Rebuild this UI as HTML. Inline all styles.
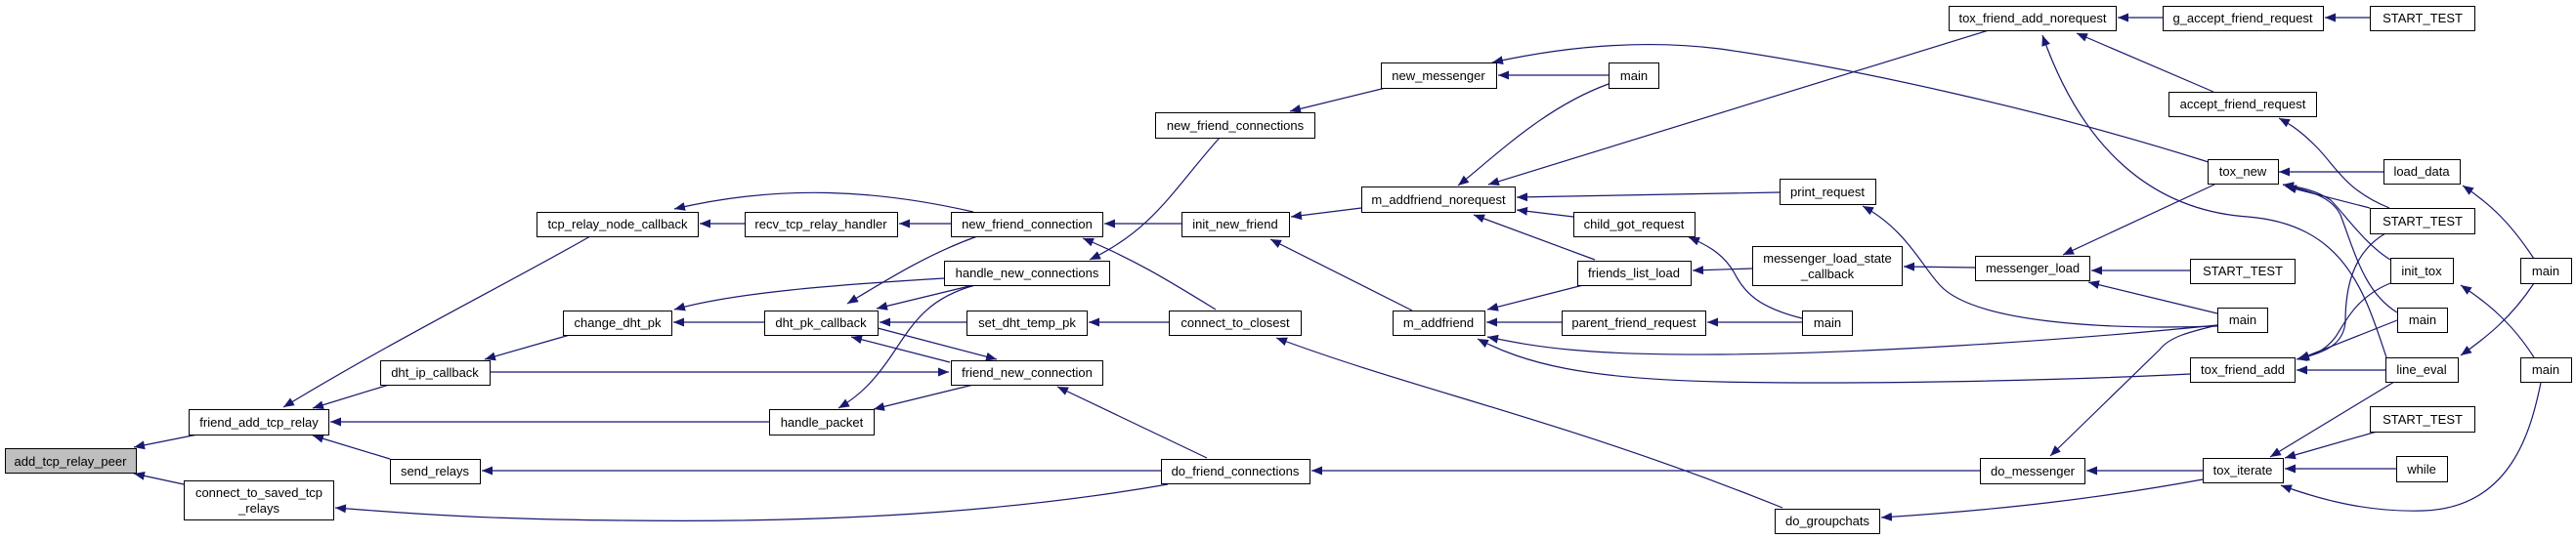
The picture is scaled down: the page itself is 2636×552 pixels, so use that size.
<!DOCTYPE html>
<html><head><meta charset="utf-8"><style>
html,body{margin:0;padding:0;background:#fff;}
svg{display:block;}
text{font-family:"Liberation Sans",Helvetica,Arial,sans-serif;font-size:13px;fill:#000;}
</style></head><body>
<svg width="2636" height="552" viewBox="0 0 2636 552" xmlns="http://www.w3.org/2000/svg">
<defs>
<marker id="a" markerUnits="userSpaceOnUse" markerWidth="12" markerHeight="9" refX="11" refY="4.5" orient="auto">
<path d="M0,0 L11,4.5 L0,9 z" fill="#191970"/>
</marker>
</defs>
<g fill="none" stroke="#191970" stroke-width="1.2" marker-end="url(#a)">
<path d="M202,445 L137,458"/>
<path d="M188,496 L137,485"/>
<path d="M604,242 C520,290 400,350 290,417"/>
<path d="M398,394 L320,418"/>
<path d="M787,432 L338,432"/>
<path d="M399,470 L320,446"/>
<path d="M1195,496 C1000,530 800,535 640,533 C500,532 420,526 343,520"/>
<path d="M762,229 L716,229"/>
<path d="M996,217 C900,195 800,188 690,214"/>
<path d="M973,229 L920,229"/>
<path d="M1209,229 L1130,229"/>
<path d="M1244,317 C1200,290 1160,265 1108,244"/>
<path d="M1248,141 C1200,195 1180,235 1115,266"/>
<path d="M782,330 L689,330"/>
<path d="M966,285 C850,292 750,300 690,317"/>
<path d="M583,343 L496,368"/>
<path d="M1000,242 C950,260 910,285 867,311"/>
<path d="M996,292 L897,316"/>
<path d="M989,330 L900,330"/>
<path d="M972,371 L871,345"/>
<path d="M898,336 L1020,368"/>
<path d="M501,381 L971,381"/>
<path d="M996,394 L894,419"/>
<path d="M998,292 C950,305 935,330 915,360 C895,390 880,405 858,418"/>
<path d="M1235,469 L1082,396"/>
<path d="M1188,482 L493,482"/>
<path d="M1196,330 L1114,330"/>
<path d="M1418,90 L1320,114"/>
<path d="M1393,213 L1321,222"/>
<path d="M1445,318 L1300,245"/>
<path d="M1824,520 C1600,430 1450,400 1306,346"/>
<path d="M2026,482 L1342,482"/>
<path d="M1646,77 L1533,77"/>
<path d="M2260,166 C2100,115 1900,70 1760,50 C1680,40 1600,48 1527,64"/>
<path d="M1646,86 C1580,110 1530,160 1492,190"/>
<path d="M2035,31 L1523,189"/>
<path d="M1821,197 L1552,202"/>
<path d="M1610,222 L1552,215"/>
<path d="M1632,266 L1508,220"/>
<path d="M1620,292 L1522,317"/>
<path d="M1598,330 L1521,330"/>
<path d="M2269,333 C2100,350 1900,362 1760,363 C1620,364 1570,355 1522,345"/>
<path d="M2241,383 C2100,390 1900,394 1760,391 C1620,388 1560,372 1512,347"/>
<path d="M1793,275 L1732,277"/>
<path d="M1844,326 C1800,315 1785,300 1775,280 C1765,262 1750,252 1728,243"/>
<path d="M1844,330 L1747,330"/>
<path d="M2269,334 C2150,338 2020,330 1985,292 C1965,270 1950,235 1906,211"/>
<path d="M2021,274 L1948,273"/>
<path d="M2241,277 L2140,277"/>
<path d="M2269,321 L2137,289"/>
<path d="M2266,189 L2111,261"/>
<path d="M2269,333 C2240,340 2220,345 2210,358 L2098,467"/>
<path d="M2254,482 L2135,482"/>
<path d="M2254,491 C2150,510 2050,522 1925,530"/>
<path d="M2213,18 L2167,18"/>
<path d="M2425,18 L2379,18"/>
<path d="M2265,94 L2125,34"/>
<path d="M2442,366 C2420,300 2400,230 2300,222 C2200,215 2130,150 2090,36"/>
<path d="M2445,213 C2400,195 2390,170 2370,150 C2355,135 2345,128 2332,121"/>
<path d="M2439,176 L2332,176"/>
<path d="M2425,213 L2339,191"/>
<path d="M2446,266 C2420,250 2400,220 2385,205 C2370,195 2355,192 2336,189"/>
<path d="M2453,320 C2420,300 2410,260 2395,220 C2385,200 2360,195 2336,189"/>
<path d="M2593,265 C2570,230 2550,210 2520,190"/>
<path d="M2441,239 C2405,260 2400,300 2400,330 C2398,350 2385,360 2350,368"/>
<path d="M2446,290 C2410,305 2400,330 2390,345 C2380,358 2370,363 2352,368"/>
<path d="M2453,328 L2352,368"/>
<path d="M2441,379 L2350,379"/>
<path d="M2593,366 C2570,330 2545,310 2518,292"/>
<path d="M2593,290 C2570,325 2545,345 2518,364"/>
<path d="M2450,391 L2323,468"/>
<path d="M2432,442 L2338,469"/>
<path d="M2452,480 L2338,480"/>
<path d="M2600,392 C2590,440 2570,520 2480,523 C2420,525 2370,510 2334,497"/>
</g>
<g stroke="#000" stroke-width="1" fill="#fff">
<rect x="5.5" y="459.5" width="134" height="25" fill="#bfbfbf"/>
<rect x="193.5" y="419.5" width="143" height="26"/>
<rect x="188.5" y="492.5" width="153" height="40"/>
<rect x="549.5" y="217.5" width="165" height="25"/>
<rect x="576.5" y="318.5" width="111" height="25"/>
<rect x="389.5" y="369.5" width="112" height="25"/>
<rect x="399.5" y="470.5" width="92" height="25"/>
<rect x="762.5" y="217.5" width="156" height="25"/>
<rect x="973.5" y="217.5" width="155" height="25"/>
<rect x="966.5" y="267.5" width="169" height="25"/>
<rect x="782.5" y="318.5" width="116" height="25"/>
<rect x="989.5" y="318.5" width="123" height="25"/>
<rect x="973.5" y="369.5" width="155" height="25"/>
<rect x="787.5" y="419.5" width="107" height="26"/>
<rect x="1182.5" y="115.5" width="163" height="26"/>
<rect x="1209.5" y="217.5" width="110" height="25"/>
<rect x="1196.5" y="318.5" width="135" height="25"/>
<rect x="1188.5" y="470.5" width="152" height="25"/>
<rect x="1413.5" y="64.5" width="118" height="26"/>
<rect x="1646.5" y="64.5" width="51" height="26"/>
<rect x="1393.5" y="191.5" width="157" height="26"/>
<rect x="1821.5" y="183.5" width="98" height="26"/>
<rect x="1610.5" y="217.5" width="124" height="25"/>
<rect x="1614.5" y="267.5" width="116" height="25"/>
<rect x="1793.5" y="252.5" width="153" height="40"/>
<rect x="1425.5" y="318.5" width="94" height="25"/>
<rect x="1598.5" y="318.5" width="147" height="25"/>
<rect x="1844.5" y="318.5" width="51" height="25"/>
<rect x="1816.5" y="521.5" width="107" height="25"/>
<rect x="1994.5" y="6.5" width="171" height="25"/>
<rect x="2213.5" y="6.5" width="164" height="25"/>
<rect x="2425.5" y="6.5" width="107" height="25"/>
<rect x="2219.5" y="94.5" width="151" height="25"/>
<rect x="2259.5" y="163.5" width="72" height="25"/>
<rect x="2439.5" y="163.5" width="78" height="25"/>
<rect x="2425.5" y="213.5" width="107" height="26"/>
<rect x="2021.5" y="262.5" width="117" height="25"/>
<rect x="2241.5" y="265.5" width="107" height="25"/>
<rect x="2446.5" y="264.5" width="64" height="26"/>
<rect x="2579.5" y="264.5" width="52" height="26"/>
<rect x="2269.5" y="315.5" width="51" height="25"/>
<rect x="2453.5" y="315.5" width="51" height="25"/>
<rect x="2241.5" y="366.5" width="107" height="25"/>
<rect x="2441.5" y="366.5" width="74" height="25"/>
<rect x="2579.5" y="366.5" width="52" height="25"/>
<rect x="2425.5" y="416.5" width="107" height="26"/>
<rect x="2452.5" y="467.5" width="52" height="26"/>
<rect x="2254.5" y="469.5" width="82" height="25"/>
<rect x="2026.5" y="469.5" width="107" height="26"/>
</g>
<g text-anchor="middle">
<text x="72" y="477">add_tcp_relay_peer</text>
<text x="265" y="437">friend_add_tcp_relay</text>
<text x="265" y="509">connect_to_saved_tcp</text>
<text x="265" y="525">_relays</text>
<text x="632" y="234">tcp_relay_node_callback</text>
<text x="632" y="335">change_dht_pk</text>
<text x="445" y="386">dht_ip_callback</text>
<text x="445" y="487">send_relays</text>
<text x="840" y="234">recv_tcp_relay_handler</text>
<text x="1051" y="234">new_friend_connection</text>
<text x="1051" y="284">handle_new_connections</text>
<text x="840" y="335">dht_pk_callback</text>
<text x="1051" y="335">set_dht_temp_pk</text>
<text x="1051" y="386">friend_new_connection</text>
<text x="841" y="437">handle_packet</text>
<text x="1264" y="133">new_friend_connections</text>
<text x="1264" y="234">init_new_friend</text>
<text x="1264" y="335">connect_to_closest</text>
<text x="1264" y="487">do_friend_connections</text>
<text x="1472" y="82">new_messenger</text>
<text x="1672" y="82">main</text>
<text x="1472" y="209">m_addfriend_norequest</text>
<text x="1870" y="201">print_request</text>
<text x="1672" y="234">child_got_request</text>
<text x="1672" y="284">friends_list_load</text>
<text x="1870" y="269">messenger_load_state</text>
<text x="1870" y="285">_callback</text>
<text x="1472" y="335">m_addfriend</text>
<text x="1672" y="335">parent_friend_request</text>
<text x="1870" y="335">main</text>
<text x="1870" y="538">do_groupchats</text>
<text x="2080" y="23">tox_friend_add_norequest</text>
<text x="2295" y="23">g_accept_friend_request</text>
<text x="2479" y="23">START_TEST</text>
<text x="2295" y="111">accept_friend_request</text>
<text x="2295" y="180">tox_new</text>
<text x="2478" y="180">load_data</text>
<text x="2479" y="231">START_TEST</text>
<text x="2080" y="279">messenger_load</text>
<text x="2295" y="282">START_TEST</text>
<text x="2478" y="282">init_tox</text>
<text x="2605" y="282">main</text>
<text x="2295" y="332">main</text>
<text x="2479" y="332">main</text>
<text x="2295" y="383">tox_friend_add</text>
<text x="2478" y="383">line_eval</text>
<text x="2605" y="383">main</text>
<text x="2479" y="434">START_TEST</text>
<text x="2478" y="485">while</text>
<text x="2295" y="486">tox_iterate</text>
<text x="2080" y="487">do_messenger</text>
</g>
</svg>
</body></html>
